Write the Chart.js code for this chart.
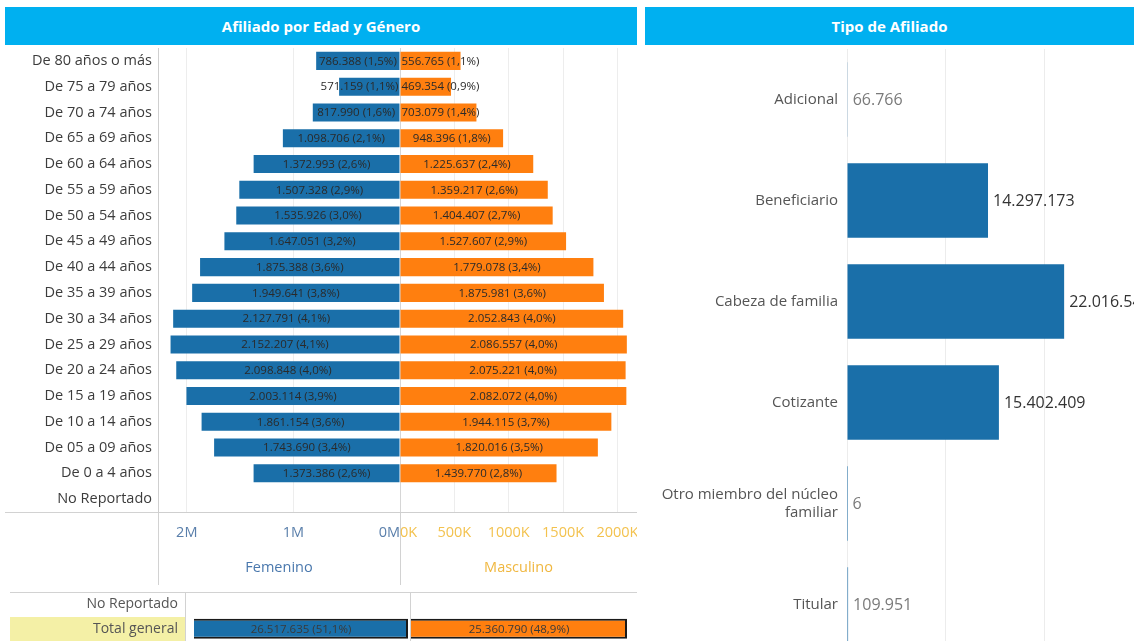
<!DOCTYPE html>
<html><head><meta charset="utf-8">
<script src="https://cdn.jsdelivr.net/npm/chart.js@4.4.1/dist/chart.umd.min.js"></script>
<style>
html,body{margin:0;padding:0;width:1134px;height:641px;overflow:hidden;background:#fff;font-family:'Open Sans',sans-serif;}
.abs{position:absolute;}
.title{position:absolute;background:#00b0f0;color:#fff;font-weight:bold;font-size:15px;display:flex;align-items:center;justify-content:center;}
.line{position:absolute;background:#d2d2d2;}
canvas{display:block;}
</style></head><body>
<div class="title" style="left:5px;top:7px;width:632px;height:38px">Afiliado por Edad y Género</div>
<div class="title" style="left:645px;top:7px;width:489px;height:38px">Tipo de Afiliado</div>
<div class="line" style="left:5px;top:512px;width:153px;height:1px"></div>
<div class="line" style="left:158px;top:512px;width:1px;height:73px"></div>
<div class="line" style="left:400px;top:512px;width:1px;height:73px"></div>
<div class="line" style="left:10px;top:592px;width:627px;height:1px"></div>
<div class="abs" style="left:10px;top:617px;width:175px;height:24px;background:#f4f0a6"></div>
<div class="line" style="left:185px;top:592px;width:1px;height:49px"></div>
<div class="line" style="left:410px;top:592px;width:1px;height:49px"></div>
<canvas id="cF" class="abs" style="left:0;top:48px" width="400" height="537"></canvas>
<canvas id="cM" class="abs" style="left:400px;top:48px" width="237" height="537"></canvas>
<canvas id="tF" class="abs" style="left:0;top:592px" width="410" height="49"></canvas>
<canvas id="tM" class="abs" style="left:410px;top:592px" width="218" height="49"></canvas>
<canvas id="cT" class="abs" style="left:645px;top:49px" width="489" height="606"></canvas>
<script>
// ---------- DATA ----------
const ageGroups = ['De 80 años o más','De 75 a 79 años','De 70 a 74 años','De 65 a 69 años','De 60 a 64 años','De 55 a 59 años','De 50 a 54 años','De 45 a 49 años','De 40 a 44 años','De 35 a 39 años','De 30 a 34 años','De 25 a 29 años','De 20 a 24 años','De 15 a 19 años','De 10 a 14 años','De 05 a 09 años','De 0 a 4 años','No Reportado'];
const femenino = [786388,571159,817990,1098706,1372993,1507328,1535926,1647051,1875388,1949641,2127791,2152207,2098848,2003114,1861154,1743690,1373386,null];
const masculino = [556765,469354,703079,948396,1225637,1359217,1404407,1527607,1779078,1875981,2052843,2086557,2075221,2082072,1944115,1820016,1439770,null];
const genders = ['Femenino','Masculino'];
const genderTotals = [26517635, 25360790];
const totalRows = ['No Reportado','Total general'];
const femTicks = [0, 1000000, 2000000];
const femTickLabels = ['0M','1M','2M'];
const mascTicks = [0, 500000, 1000000, 1500000, 2000000];
const mascTickLabels = ['0K','500K','1000K','1500K','2000K'];
const tipos = ['Adicional','Beneficiario','Cabeza de familia','Cotizante',['Otro miembro del núcleo','familiar'],'Titular'];
const tipoValores = [66766,14297173,22016548,15402409,6,109951];
const tipoTicks = [0, 10000000, 20000000];

// ---------- HELPERS ----------
const FONT = "'Open Sans', sans-serif";
const BLUE = '#1a6fa9', ORANGE = '#ff7f0f';
const grand = genderTotals[0] + genderTotals[1];
const fmt = n => String(Math.round(n)).replace(/\B(?=(\d{3})+(?!\d))/g, '.');
const pct = n => (n / grand * 100).toFixed(1).replace('.', ',') + '%';
const lab = n => fmt(n) + ' (' + pct(n) + ')';
const fix = (w, h) => s => {
  if (w !== null) s.width = w;
  if (h !== null) s.height = h;
  s.paddingLeft = 0; s.paddingRight = 0; s.paddingTop = 0; s.paddingBottom = 0;
};

const barLabels = {
  id: 'barLabels',
  afterDatasetsDraw(chart, args, opts) {
    const ctx = chart.ctx;
    const meta = chart.getDatasetMeta(0);
    const data = chart.data.datasets[0].data;
    ctx.save();
    ctx.font = opts.font;
    ctx.textBaseline = 'middle';
    meta.data.forEach((bar, i) => {
      const v = data[i];
      if (v === null || v === undefined) return;
      const text = opts.text(v);
      const w = ctx.measureText(text).width;
      const x0 = bar.base, x1 = bar.x;
      const left = Math.min(x0, x1), right = Math.max(x0, x1);
      let tx, align;
      if (opts.mode === 'outside') { tx = right + opts.gap; align = 'left'; }
      else if (opts.mode === 'center' || w + 4 <= right - left) { tx = (left + right) / 2; align = 'center'; }
      else if (x1 < x0) { tx = x0 - 1; align = 'right'; }
      else { tx = x0 + 1; align = 'left'; }
      ctx.fillStyle = typeof opts.color === 'function' ? opts.color(v) : opts.color;
      ctx.textAlign = align;
      ctx.fillText(text, tx, bar.y + 0.5);
    });
    ctx.restore();
  }
};

const common = {
  indexAxis: 'y', responsive: false, animation: false, events: [],
  layout: { padding: 0 }
};

function pyramid(id, values, color, max, ticks, tickLabels, reverse, showY, title, tickColor, titleColor) {
  return new Chart(document.getElementById(id), {
    type: 'bar',
    data: { labels: ageGroups, datasets: [{ data: values, backgroundColor: color, barPercentage: 0.7, categoryPercentage: 1 }] },
    options: Object.assign({}, common, {
      plugins: { legend: { display: false }, tooltip: { enabled: false },
        barLabels: { font: "11.5px " + FONT, color: '#2a2a2a', text: lab } },
      scales: {
        x: {
          reverse: reverse, min: 0, max: max,
          afterBuildTicks: s => { s.ticks = ticks.map(v => ({ value: v })).concat([{ value: s.max }]); },
          ticks: { align: 'inner', autoSkip: false, maxRotation: 0, minRotation: 0, padding: 12,
                   color: tickColor, font: { family: FONT, size: 14.5 },
                   callback: (v, i) => i < tickLabels.length ? tickLabels[i] : '' },
          grid: { drawTicks: false,
                  color: c => c.index === 0 ? '#d6d6d6' : (c.index < ticks.length ? '#ededed' : 'rgba(0,0,0,0)') },
          border: { display: true, color: '#cfcfcf' },
          title: { display: true, text: title, color: titleColor, font: { family: FONT, size: 14.5 }, padding: { top: 0, bottom: 8 } },
          afterFit: fix(null, 73)
        },
        y: {
          display: showY,
          afterFit: fix(showY ? 158 : 0, null),
          grid: { display: false, drawTicks: false },
          border: { display: true, color: '#cfcfcf' },
          ticks: { padding: 6, color: '#3c3c3c', font: { family: FONT, size: 14.5 } }
        }
      }
    }),
    plugins: [barLabels]
  });
}

pyramid('cF', femenino, BLUE, 2270000, femTicks, femTickLabels, true, true, genders[0], '#5a7fab', '#4a78ad');
pyramid('cM', masculino, ORANGE, 2180000, mascTicks, mascTickLabels, false, false, genders[1], '#f3c24e', '#f0b73f');

function totalChart(id, idx, color, showY, padL, padR) {
  const vals = [null, genderTotals[idx]];
  return new Chart(document.getElementById(id), {
    type: 'bar',
    data: { labels: totalRows, datasets: [{ data: vals, backgroundColor: color, borderColor: '#1a1a1a', borderWidth: 2,
      barPercentage: 0.82, categoryPercentage: 1 }] },
    options: Object.assign({}, common, {
      layout: { padding: { left: padL, right: padR, top: 0, bottom: 0 } },
      plugins: { legend: { display: false }, tooltip: { enabled: false },
        barLabels: { font: "11.5px " + FONT, color: '#3a3a3a', text: lab, mode: 'center' } },
      scales: {
        x: { display: false, min: 0, max: genderTotals[idx] },
        y: { display: showY, afterFit: fix(showY ? 194 : 0, null),
             grid: { display: false, drawTicks: false }, border: { display: false },
             ticks: { padding: 16, color: '#555', font: { family: FONT, size: 14 } } }
      }
    }),
    plugins: [barLabels]
  });
}
totalChart('tF', 0, BLUE, true, 0, 2);
totalChart('tM', 1, ORANGE, false, 1, 1);

new Chart(document.getElementById('cT'), {
  type: 'bar',
  data: { labels: tipos, datasets: [{ data: tipoValores, backgroundColor: BLUE, barPercentage: 0.74, categoryPercentage: 1 }] },
  options: Object.assign({}, common, {
    plugins: { legend: { display: false }, tooltip: { enabled: false },
      barLabels: { font: "16px " + FONT, color: v => v < 1000000 ? '#7a7a7a' : '#333', text: fmt, mode: 'outside', gap: 5 } },
    scales: {
      x: { min: 0, max: 29100000,
           afterBuildTicks: s => { s.ticks = tipoTicks.map(v => ({ value: v })); },
           ticks: { display: false }, border: { display: false },
           grid: { color: '#ececec', drawTicks: false },
           afterFit: fix(null, 0) },
      y: { afterFit: fix(202, null), grid: { display: false, drawTicks: false }, border: { display: false },
           ticks: { padding: 9, color: '#555', font: { family: FONT, size: 15 } } }
    }
  }),
  plugins: [barLabels]
});
</script>
</body></html>
